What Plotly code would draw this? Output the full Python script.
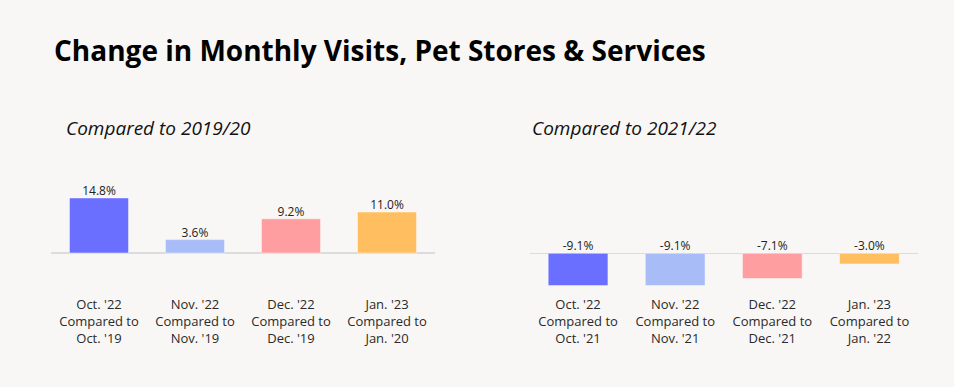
import plotly.graph_objects as go

W, H = 954, 387

title = "Change in Monthly Visits, Pet Stores & Services"
subtitles = ["Compared to 2019/20", "Compared to 2021/22"]

cats_left = ["Oct. '22<br>Compared to<br>Oct. '19", "Nov. '22<br>Compared to<br>Nov. '19",
             "Dec. '22<br>Compared to<br>Dec. '19", "Jan. '23<br>Compared to<br>Jan. '20"]
vals_left = [14.8, 3.6, 9.2, 11.0]

cats_right = ["Oct. '22<br>Compared to<br>Oct. '21", "Nov. '22<br>Compared to<br>Nov. '21",
              "Dec. '22<br>Compared to<br>Dec. '21", "Jan. '23<br>Compared to<br>Jan. '22"]
vals_right = [-9.1, -9.1, -7.1, -3.0]

colors = ["#6A6FFF", "#A8BCF8", "#FF9EA0", "#FFBE5F"]
BG = "#F8F7F5"
FONT = "Open Sans"

def px_x(p):
    return p / W

def px_y(p):
    return 1 - p / H

fig = go.Figure()

fig.add_trace(go.Bar(
    x=cats_left, y=vals_left, marker=dict(color=colors, line=dict(color="rgba(255,255,255,0.45)", width=1)),
    xaxis="x", yaxis="y", showlegend=False, hoverinfo="skip"))

fig.add_trace(go.Scatter(
    x=cats_left, y=vals_left, mode="text",
    text=[f"{v:.1f}%" for v in vals_left], textposition="top center", cliponaxis=False,
    textfont=dict(family=FONT, size=12, color="#222"),
    xaxis="x", yaxis="y", showlegend=False, hoverinfo="skip"))

fig.add_trace(go.Bar(
    x=cats_right, y=vals_right, marker=dict(color=colors, line=dict(color="rgba(255,255,255,0.45)", width=1)),
    xaxis="x2", yaxis="y2", showlegend=False, hoverinfo="skip"))

fig.add_trace(go.Scatter(
    x=cats_right, y=[0] * len(vals_right), mode="text",
    text=[f"{v:.1f}%" for v in vals_right], textposition="top center", cliponaxis=False,
    textfont=dict(family=FONT, size=12, color="#222"),
    xaxis="x2", yaxis="y2", showlegend=False, hoverinfo="skip"))

top_px, bot_px = 170, 295
zero_l, scale_l = 253, 3.72
zero_r, scale_r = 253.3, 3.55

xaxis_common = dict(showgrid=False, zeroline=False, showline=False, ticks="",
                    tickfont=dict(family=FONT, size=13, color="#2A2A2A"), fixedrange=True)
yaxis_common = dict(showgrid=False, zeroline=True, zerolinecolor="#DCDCDC", zerolinewidth=1.5,
                    showticklabels=False, fixedrange=True)

fig.update_layout(
    width=W, height=H,
    paper_bgcolor=BG, plot_bgcolor=BG,
    margin=dict(l=0, r=0, t=0, b=0),
    bargap=0.385,
    font=dict(family=FONT, color="#222"),
    title=dict(text=f"<b>{title}</b>", x=px_x(54), xanchor="left", xref="paper",
               y=px_y(51), yanchor="middle", yref="container",
               font=dict(family=FONT, size=28, color="#000")),
    xaxis=dict(domain=[px_x(51), px_x(435)], anchor="y", **xaxis_common),
    yaxis=dict(domain=[px_y(bot_px), px_y(top_px)],
               range=[-(bot_px - zero_l) / scale_l, (zero_l - top_px) / scale_l], **yaxis_common),
    xaxis2=dict(domain=[px_x(529.5), px_x(918)], anchor="y2", **xaxis_common),
    yaxis2=dict(domain=[px_y(bot_px), px_y(top_px)],
                range=[-(bot_px - zero_r) / scale_r, (zero_r - top_px) / scale_r], **yaxis_common),
    annotations=[
        dict(text=f"<i>{subtitles[0]}</i>", x=px_x(64), y=px_y(128), xref="paper", yref="paper",
             xanchor="left", yanchor="middle", showarrow=False,
             font=dict(family=FONT, size=19, color="#111")),
        dict(text=f"<i>{subtitles[1]}</i>", x=px_x(530), y=px_y(128), xref="paper", yref="paper",
             xanchor="left", yanchor="middle", showarrow=False,
             font=dict(family=FONT, size=19, color="#111")),
    ],
)

fig.write_html(
    "out.html",
    config={"displayModeBar": False, "staticPlot": True},
    post_script="document.body.style.margin='0';document.body.style.background='" + BG + "';",
)
